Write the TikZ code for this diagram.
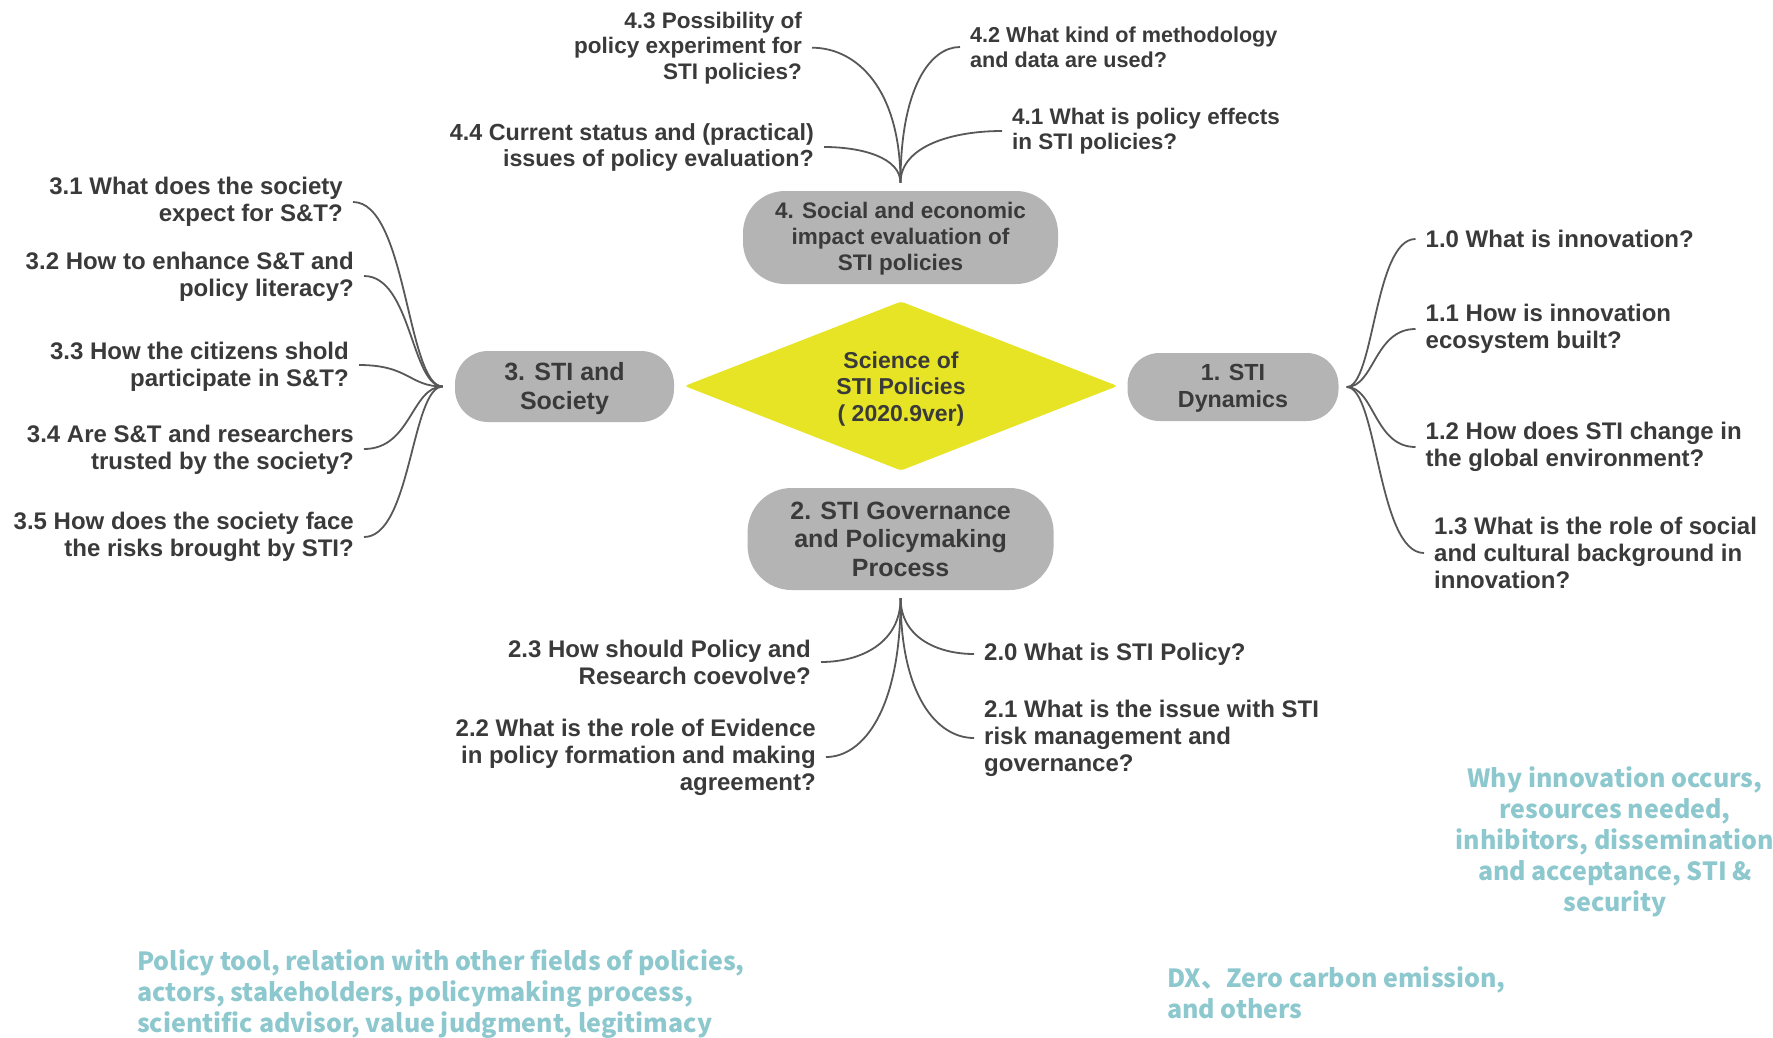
\documentclass[tikz,border=0pt]{standalone}
\usepackage{fontspec}
\setmainfont{Liberation Sans}
\newfontfamily\notefont{Noto Sans CJK JP}
\usetikzlibrary{shapes.geometric,calc}

\definecolor{inkgray}{RGB}{58,58,58}
\definecolor{pillgray}{RGB}{180,180,180}
\definecolor{hubyellow}{RGB}{230,228,36}
\definecolor{wiregray}{RGB}{88,88,88}
\definecolor{noteteal}{RGB}{140,200,206}

% lower a text block inside its node without changing the node's size
\newcommand{\dropby}[2]{\raisebox{-#1}[\height][\depth]{#2}}

\tikzset{
  pill/.style={fill=pillgray, draw=none, text=inkgray, align=center, inner sep=0pt},
  leafbase/.style={text=inkgray, inner xsep=10pt, inner ysep=0pt,
    font=\bfseries\fontsize{24}{27}\selectfont},
  leafR/.style={leafbase, anchor=east, align=right},
  leafL/.style={leafbase, anchor=west, align=left},
  smallleaf/.style={font=\bfseries\fontsize{22.5}{25.5}\selectfont},
  wire/.style={draw=wiregray, line width=1.8pt},
  note/.style={text=noteteal, inner sep=0pt,
    font=\notefont\bfseries\fontsize{25}{31}\selectfont},
  % side branches: horizontal at both ends, vertical in between
  hbrace/.style={to path={let \p1=(\tikztostart), \p2=(\tikztotarget) in
    .. controls ({\x1+0.4*(\x2-\x1)},\y1) and ({\x1+0.4*(\x2-\x1)},\y2) .. (\tikztotarget)}},
  % stem branches: vertical at the stem, horizontal at the label
  vbranch/.style={to path={let \p1=(\tikztostart), \p2=(\tikztotarget) in
    .. controls (\x1,{\y1+0.7*(\y2-\y1)}) and ({\x1+0.5*(\x2-\x1)},\y2) .. (\tikztotarget)}},
}

\begin{document}
\begin{tikzpicture}[x=1pt, y=-1pt]
\useasboundingbox (0,0) rectangle (1773,1037);
\fill[white] (0,0) rectangle (1773,1037);

% central topic and the four themes
\node[diamond, aspect=2.56, fill=hubyellow, minimum width=433pt, minimum height=169pt, inner sep=0pt,
      rounded corners=3pt, align=center, text=inkgray,
      font=\bfseries\fontsize{23}{26.5}\selectfont] (core) at (901,386)
      {\dropby{3pt}{\parbox{200pt}{\centering Science of\\STI Policies\\( 2020.9ver)}}};

\node[pill, minimum width=315pt, minimum height=93pt, rounded corners=42pt,
      font=\bfseries\fontsize{22.5}{26}\selectfont] (p4) at (900.5,237.5)
      {\dropby{1pt}{\parbox{300pt}{\centering 4. Social and economic\\impact evaluation of\\STI policies}}};
\node[pill, minimum width=219pt, minimum height=71pt, rounded corners=33pt,
      font=\bfseries\fontsize{25}{29}\selectfont] (p3) at (564.5,386.5)
      {\dropby{2.5pt}{\parbox{200pt}{\centering 3. STI and\\Society}}};
\node[pill, minimum width=211pt, minimum height=68pt, rounded corners=32pt,
      font=\bfseries\fontsize{23.3}{27}\selectfont] (p1) at (1233,387)
      {\dropby{1pt}{\parbox{200pt}{\centering 1. STI\\Dynamics}}};
\node[pill, minimum width=306pt, minimum height=102pt, rounded corners=44pt,
      font=\bfseries\fontsize{25}{28.5}\selectfont] (p2) at (900.6,539)
      {2. STI Governance\\and Policymaking\\Process};

% branch hubs next to each theme
\coordinate (hub4) at ([yshift=8pt]p4.north);
\coordinate (hub2) at ([yshift=-8pt]p2.south);
\coordinate (hub3) at ([xshift=-12pt]p3.west);
\coordinate (hub1) at ([xshift=8pt]p1.east);

% theme 4 questions
\node[leafR, smallleaf] (l43) at (812,47.7) {4.3 Possibility of\\policy experiment for\\STI policies?};
\node[leafR, font=\bfseries\fontsize{23.3}{26}\selectfont] (l44) at (824,147) {4.4 Current status and (practical)\\issues of policy evaluation?};
\node[leafL, font=\bfseries\fontsize{21.6}{25}\selectfont] (l42) at (960,47) {4.2 What kind of methodology\\and data are used?};
\node[leafL, smallleaf] (l41) at (1002,131) {4.1 What is policy effects\\in STI policies?};

% theme 3 questions
\node[leafR] (l31) at (353,202) {3.1 What does the society\\expect for S\&T?};
\node[leafR] (l32) at (364,276) {\dropby{2pt}{\begin{tabular}{@{}r@{}}3.2 How to enhance S\&T and\\policy literacy?\end{tabular}}};
\node[leafR] (l33) at (359,365) {\dropby{2.5pt}{\begin{tabular}{@{}r@{}}3.3 How the citizens shold\\participate in S\&T?\end{tabular}}};
\node[leafR] (l34) at (364,449) {\dropby{2pt}{\begin{tabular}{@{}r@{}}3.4 Are S\&T and researchers\\trusted by the society?\end{tabular}}};
\node[leafR] (l35) at (364,537) {3.5 How does the society face\\the risks brought by STI?};

% theme 1 questions
\node[leafL] (l10) at (1415.5,239) {1.0 What is innovation?};
\node[leafL] (l11) at (1415.5,329) {1.1 How is innovation\\ecosystem built?};
\node[leafL] (l12) at (1415.5,447) {1.2 How does STI change in\\the global environment?};
\node[leafL] (l13) at (1424,553) {1.3 What is the role of social\\and cultural background in\\innovation?};

% theme 2 questions
\node[leafL] (l20) at (974,654) {2.0 What is STI Policy?};
\node[leafL] (l21) at (974,738) {2.1 What is the issue with STI\\risk management and\\governance?};
\node[leafR] (l23) at (821,662) {2.3 How should Policy and\\Research coevolve?};
\node[leafR] (l22) at (826,757) {2.2 What is the role of Evidence\\in policy formation and making\\agreement?};

% connectors
\foreach \leaf/\side in {l43/east, l44/east, l42/west, l41/west}
  \draw[wire] (hub4) to[vbranch] (\leaf.\side);
\foreach \leaf/\side in {l20/west, l21/west, l23/east, l22/east}
  \draw[wire] (hub2) to[vbranch] (\leaf.\side);
\foreach \leaf in {l31, l32, l33, l34, l35}
  \draw[wire] (hub3) to[hbrace] (\leaf.east);
\foreach \leaf in {l10, l11, l12, l13}
  \draw[wire] (hub1) to[hbrace] (\leaf.west);

% scope notes
\node[note, align=center] (n1) at (1615,841.5)
  {Why innovation occurs,\\resources needed,\\inhibitors, dissemination\\and acceptance, STI \&\\security};
\node[note, align=left, anchor=west] (n2) at (137,994)
  {Policy tool, relation with other fields of policies,\\actors, stakeholders, policymaking process,\\scientific advisor, value judgment, legitimacy};
\node[note, align=left, anchor=west] (n3) at (1167,993)
  {DX、Zero carbon emission,\\and others};
\end{tikzpicture}
\end{document}
